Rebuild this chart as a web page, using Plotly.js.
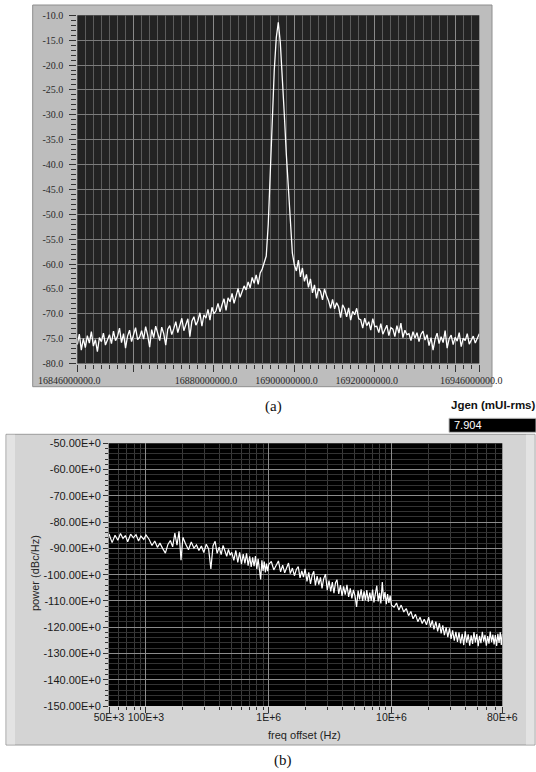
<!DOCTYPE html>
<html><head><meta charset="utf-8">
<script src="https://cdn.plot.ly/plotly-3.0.1.min.js"></script>
<style>html,body{margin:0;padding:0;background:#fff}#chart{width:536px;height:772px}</style>
</head><body><div id="chart"></div>
<script>
// ---------- Panel (a): RF spectrum ----------
const specStartHz = 16846000000;
const specStepHz = 500000;
const specPowerDb = [
 -76.2,-74.1,-77.3,-75.0,-76.8,-74.4,-75.9,-73.6,-76.5,-75.2,-77.6,-74.8,-75.6,-73.9,-76.3,-75.1,
 -74.2,-76.0,-73.5,-75.4,-74.6,-72.9,-75.8,-74.0,-76.9,-74.5,-73.3,-75.6,-74.1,-72.8,-75.2,-74.7,
 -73.4,-75.1,-72.6,-74.3,-76.7,-73.2,-74.8,-72.5,-73.9,-75.4,-72.7,-74.0,-76.3,-73.1,-72.4,-74.2,
 -73.0,-71.6,-73.8,-72.1,-70.9,-73.4,-72.2,-71.0,-74.6,-71.5,-70.6,-72.3,
 -71.4,-69.8,-72.5,-70.2,-70.9,-69.1,-71.3,-68.7,-70.0,-69.4,-67.9,-69.6,
 -68.2,-67.0,-69.3,-66.8,-67.6,-65.9,-67.9,-66.2,-64.9,-66.7,-65.3,-64.4,
 -65.2,-63.6,-64.8,-62.7,-63.9,-62.2,-64.1,-61.8,
 -61.0,-59.8,
 -58.4,-52.0,-41.0,-30.0,-21.0,-14.5,-11.4,-15.5,-22.0,-30.0,-38.0,-45.0,-52.0,-57.8,-60.2,
 -61.4,-59.2,-62.6,-60.8,-63.5,-62.1,-64.7,-63.0,
 -65.8,-64.2,-66.9,-64.9,-65.5,-67.2,-65.0,-66.4,
 -67.4,-68.9,-67.1,-69.0,-67.8,-68.6,-70.8,-68.2,
 -69.0,-70.6,-68.8,-71.3,-69.5,-70.2,-68.9,-71.0,
 -71.2,-72.9,-70.9,-72.4,-71.6,-73.3,-71.0,-72.6,
 -72.5,-73.8,-72.0,-74.1,-73.2,-72.3,-74.4,-72.8,
 -73.1,-74.6,-72.4,-73.9,-71.9,-74.8,-73.3,-74.2,
 -74.0,-75.4,-73.6,-74.9,-73.8,-75.6,-74.1,-73.5,
 -75.3,-74.2,-76.4,-74.8,-77.3,-75.1,-73.9,-76.0,-74.6,-75.8,-73.4,-76.9,-75.0,-74.3,
 -76.2,-74.7,-75.5,-73.8,-76.6,-74.9,-75.4,-74.0,-76.1,-75.2,-74.5,-75.9,-74.8,-74.0
];
const specXTickVals = [16846000000,16860000000,16880000000,16900000000,16920000000,16940000000,16946000000];
const specXTickText = ['16846000000.0','','16880000000.0','16900000000.0','16920000000.0','','16946000000.0'];
const specYTickVals = [-80,-75,-70,-65,-60,-55,-50,-45,-40,-35,-30,-25,-20,-15,-10];
const specYTickText = ['-80.0','-75.0','-70.0','-65.0','-60.0','-55.0','-50.0','-45.0','-40.0','-35.0','-30.0','-25.0','-20.0','-15.0','-10.0'];

// ---------- Panel (b): phase noise ----------
const pnFreqHz = [
 5.0e4,5.3e4,5.6e4,5.9e4,6.2e4,6.5e4,6.8e4,7.1e4,7.5e4,7.9e4,8.3e4,8.7e4,9.1e4,9.6e4,1.0e5,
 1.06e5,1.12e5,1.18e5,1.24e5,1.30e5,1.37e5,1.44e5,1.51e5,1.58e5,1.65e5,1.72e5,1.79e5,1.86e5,1.93e5,2.00e5,
 2.10e5,2.22e5,2.34e5,2.46e5,2.58e5,2.70e5,2.83e5,2.96e5,3.10e5,3.24e5,3.38e5,3.52e5,3.66e5,3.80e5,3.95e5,4.10e5,4.25e5,4.40e5,4.55e5,4.70e5,4.85e5,5.00e5,
 5.2e5,5.4e5,5.6e5,5.8e5,6.0e5,6.2e5,6.4e5,6.6e5,6.8e5,7.0e5,7.2e5,7.4e5,7.6e5,7.8e5,8.0e5,8.2e5,8.4e5,8.6e5,8.8e5,9.0e5,9.2e5,9.4e5,9.6e5,9.8e5,1.0e6,
 1.05e6,1.10e6,1.15e6,1.20e6,1.25e6,1.30e6,1.35e6,1.40e6,1.45e6,1.50e6,
 1.56e6,1.62e6,1.68e6,1.74e6,1.80e6,1.86e6,1.92e6,1.98e6,
 2.05e6,2.12e6,2.19e6,2.26e6,2.33e6,2.40e6,2.48e6,2.56e6,2.64e6,2.72e6,2.80e6,
 2.90e6,3.00e6,3.10e6,3.20e6,3.30e6,3.40e6,3.50e6,3.60e6,
 3.72e6,3.84e6,3.96e6,4.08e6,4.20e6,4.34e6,4.48e6,4.62e6,4.76e6,4.90e6,
 5.05e6,5.20e6,5.35e6,5.50e6,5.66e6,5.82e6,5.98e6,6.14e6,6.30e6,
 6.48e6,6.66e6,6.84e6,7.02e6,7.20e6,7.40e6,7.60e6,7.80e6,8.00e6,8.20e6,
 8.42e6,8.64e6,8.86e6,9.08e6,9.30e6,9.53e6,9.76e6,1.00e7,
 1.05e7,1.10e7,1.15e7,1.20e7,1.26e7,1.32e7,1.38e7,1.44e7,1.50e7,1.57e7,1.64e7,1.71e7,1.78e7,1.85e7,1.93e7,
 2.01e7,2.08e7,2.15e7,2.22e7,2.30e7,2.38e7,2.46e7,2.54e7,2.62e7,2.70e7,2.79e7,2.88e7,2.97e7,3.06e7,
 3.15e7,3.25e7,3.35e7,3.45e7,3.55e7,3.66e7,3.77e7,3.88e7,3.99e7,4.10e7,
 4.22e7,4.34e7,4.46e7,4.58e7,4.70e7,4.83e7,4.96e7,5.09e7,5.22e7,5.36e7,
 5.50e7,5.64e7,5.78e7,5.93e7,6.08e7,6.23e7,6.38e7,6.54e7,
 6.70e7,6.86e7,7.02e7,7.19e7,7.36e7,7.53e7,7.70e7,7.85e7,8.00e7
];
const pnPowerDb = [
 -84.5,-87.8,-85.0,-86.9,-84.3,-86.2,-85.1,-87.5,-84.6,-86.0,-84.8,-87.2,-85.3,-86.6,-84.9,
 -86.5,-88.9,-87.2,-89.6,-88.0,-90.1,-91.8,-88.5,-87.0,-89.4,-84.2,-88.8,-83.5,-94.5,-85.8,
 -88.2,-90.5,-87.6,-89.9,-88.7,-90.8,-89.1,-91.6,-88.4,-90.2,-97.8,-89.0,-87.3,-91.9,-89.5,-92.4,-88.9,-91.1,-93.0,-90.4,-92.6,-91.5,
 -94.6,-90.8,-95.3,-91.5,-96.0,-92.2,-95.7,-91.9,-96.6,-93.0,-97.1,-93.4,-96.8,-92.9,-97.9,-94.0,-98.3,-101.8,-94.5,-98.6,-95.0,-99.2,-95.8,-98.7,-96.1,
 -95.0,-98.2,-96.1,-94.8,-98.9,-96.4,-99.3,-97.0,-95.6,-99.6,
 -97.5,-100.4,-98.0,-96.9,-101.2,-98.6,-100.9,-97.8,
 -102.6,-99.1,-103.5,-100.2,-98.7,-104.1,-100.6,-103.8,-101.0,-105.2,-101.7,
 -99.8,-105.9,-102.3,-106.4,-102.8,-107.0,-103.1,-101.9,
 -107.3,-104.0,-108.1,-104.5,-107.6,-103.9,-108.5,-105.2,-109.0,-105.8,
 -108.2,-112.3,-106.1,-109.4,-105.6,-110.0,-106.4,-109.7,-105.9,
 -110.3,-106.8,-109.9,-105.7,-110.6,-107.1,-104.2,-110.2,-106.9,-111.0,
 -102.8,-109.5,-106.6,-111.2,-107.4,-110.8,-108.0,-111.6,
 -112.4,-110.8,-113.5,-111.6,-114.2,-112.9,-115.6,-114.0,-116.8,-115.1,-117.9,-116.2,-118.6,-117.0,-119.1,
 -116.2,-119.9,-117.4,-120.8,-117.9,-121.6,-118.5,-122.4,-119.3,-123.0,-120.1,-123.8,-120.4,-124.5,
 -121.2,-125.1,-121.8,-125.6,-122.0,-126.2,-122.5,-126.8,-121.6,-125.9,
 -122.7,-127.0,-123.1,-126.4,-121.9,-125.8,-122.6,-127.2,-123.3,-126.1,
 -121.8,-125.5,-122.9,-127.0,-123.4,-126.3,-121.7,-125.7,
 -122.8,-126.6,-123.0,-127.1,-122.5,-126.0,-121.9,-126.8,-122.6
];
const pnXTickVals = [5e4,1e5,1e6,1e7,8e7];
const pnXTickText = ['50E+3','100E+3','1E+6','10E+6','80E+6'];
const pnXMinorVals = [6e4,7e4,8e4,9e4,2e5,3e5,4e5,5e5,6e5,7e5,8e5,9e5,2e6,3e6,4e6,5e6,6e6,7e6,8e6,9e6,2e7,3e7,4e7,5e7,6e7,7e7];
const pnYTickVals = [-150,-140,-130,-120,-110,-100,-90,-80,-70,-60,-50];
const pnYTickText = ['-150.00E+0','-140.00E+0','-130.00E+0','-120.00E+0','-110.00E+0','-100.00E+0','-90.00E+0','-80.00E+0','-70.00E+0','-60.00E+0','-50.00E+0'];
const pnXTitle = 'freq offset (Hz)';
const pnYTitle = 'power (dBc/Hz)';
const jgenLabel = 'Jgen (mUI-rms)';
const jgenValue = '7.904';

// ---------- layout geometry (pixels -> paper) ----------
const W = 536, H = 772;
const px = v => v / W, py = v => 1 - v / H;
const domAx = [px(77.3), px(479.3)], domAy = [py(363.5), py(15.3)];
const domBx = [px(109), px(502.3)], domBy = [py(706), py(443.3)];

const serif = '"Liberation Serif", "Times New Roman", serif';
const sans = '"Liberation Sans", Arial, sans-serif';

const traces = [
  {type:'scatter', mode:'lines', x0:specStartHz, dx:specStepHz, y:specPowerDb,
   xaxis:'x', yaxis:'y', line:{color:'#ffffff', width:1.3}, hoverinfo:'skip'},
  {type:'scatter', mode:'lines', x:pnFreqHz, y:pnPowerDb,
   xaxis:'x2', yaxis:'y2', line:{color:'#ffffff', width:1.2}, hoverinfo:'skip'}
];

const layout = {
  width: W, height: H, margin:{l:0,r:0,t:0,b:0},
  paper_bgcolor:'#ffffff', plot_bgcolor:'rgba(0,0,0,0)', showlegend:false,
  xaxis:{domain:domAx, anchor:'y', range:[16846000000,16946000000], zeroline:false,
    tickmode:'array', tickvals:specXTickVals, ticktext:specXTickText, tickangle:0,
    ticks:'outside', ticklen:7, tickcolor:'#333', ticklabelshift:-8,
    tickfont:{family:serif, size:10, color:'#2a2a2a'},
    showgrid:true, gridcolor:'#8a8a8a', gridwidth:1,
    minor:{tick0:16846000000, dtick:2000000, ticks:'outside', ticklen:4, tickcolor:'#333', showgrid:true, gridcolor:'#5c5c5c', gridwidth:1},
    showline:false},
  yaxis:{domain:domAy, anchor:'x', range:[-80,-10], zeroline:false,
    tickmode:'array', tickvals:specYTickVals, ticktext:specYTickText, tickangle:0,
    ticks:'outside', ticklen:7, tickcolor:'#333', ticklabelstandoff:4,
    tickfont:{family:serif, size:10, color:'#2a2a2a'},
    showgrid:true, gridcolor:'#7c7c7c', gridwidth:1,
    minor:{dtick:1, ticks:'outside', ticklen:5, tickcolor:'#333', showgrid:false},
    showline:false},
  xaxis2:{domain:domBx, anchor:'y2', type:'log', range:[Math.log10(5e4), Math.log10(8e7)], zeroline:false,
    tickmode:'array', tickvals:pnXTickVals, ticktext:pnXTickText, tickangle:0,
    ticks:'outside', ticklen:6, tickcolor:'#333', ticklabelstandoff:-5,
    tickfont:{family:sans, size:10.5, color:'#1a1a1a'},
    showgrid:true, gridcolor:'#8c8c8c', gridwidth:1,
    minor:{tickmode:'array', tickvals:pnXMinorVals, ticks:'outside', ticklen:3, tickcolor:'#333', showgrid:true, gridcolor:'#3a3a3a', gridwidth:1},
    showline:false},
  yaxis2:{domain:domBy, anchor:'x2', range:[-150,-50], zeroline:false,
    tickmode:'array', tickvals:pnYTickVals, ticktext:pnYTickText, tickangle:0,
    ticks:'outside', ticklen:5, tickcolor:'#333',
    tickfont:{family:sans, size:11, color:'#1a1a1a'},
    showgrid:true, gridcolor:'#8c8c8c', gridwidth:1,
    minor:{dtick:2, ticks:'outside', ticklen:3, tickcolor:'#333', showgrid:true, gridcolor:'#333333', gridwidth:1},
    showline:true, linecolor:'#8c8c8c', linewidth:1},
  shapes:[
    {type:'rect', xref:'paper', yref:'paper', layer:'below', x0:px(32.7), x1:px(492), y0:py(386.7), y1:py(5),
     fillcolor:'#bdbdbd', line:{color:'#8e8e8e', width:1}},
    {type:'rect', xref:'paper', yref:'paper', layer:'below', x0:domAx[0], x1:domAx[1], y0:domAy[0], y1:domAy[1],
     fillcolor:'#232323', line:{width:0}},
    {type:'rect', xref:'paper', yref:'paper', layer:'below', x0:px(6), x1:px(535), y0:py(745), y1:py(434.3),
     fillcolor:'#d4d4d4', line:{color:'#9a9a9a', width:1}},
    {type:'rect', xref:'paper', yref:'paper', layer:'below', x0:px(6.5), x1:px(15), y0:py(744.5), y1:py(434.8),
     fillcolor:'#e3e3e3', line:{width:0}},
    {type:'rect', xref:'paper', yref:'paper', layer:'below', x0:px(526), x1:px(534.5), y0:py(744.5), y1:py(434.8),
     fillcolor:'#e3e3e3', line:{width:0}},
    {type:'rect', xref:'paper', yref:'paper', layer:'below', x0:domBx[0], x1:domBx[1], y0:domBy[0], y1:domBy[1],
     fillcolor:'#000000', line:{width:0}},
    {type:'rect', xref:'paper', yref:'paper', layer:'below', x0:px(449), x1:px(536), y0:py(432.3), y1:py(418.3),
     fillcolor:'#000000', line:{color:'#bdbdbd', width:1}}
  ],
  annotations:[
    {xref:'paper', yref:'paper', x:px(273), y:py(406), text:'(a)', showarrow:false, xanchor:'center', yanchor:'middle',
     font:{family:serif, size:15, color:'#111'}},
    {xref:'paper', yref:'paper', x:px(283), y:py(760), text:'(b)', showarrow:false, xanchor:'center', yanchor:'middle',
     font:{family:serif, size:15, color:'#111'}},
    {xref:'paper', yref:'paper', x:px(449), y:py(405), text:'<b>'+jgenLabel+'</b>', showarrow:false, xanchor:'left', yanchor:'middle',
     font:{family:sans, size:11.5, color:'#111'}},
    {xref:'paper', yref:'paper', x:px(452), y:py(425.3), text:jgenValue, showarrow:false, xanchor:'left', yanchor:'middle',
     font:{family:sans, size:11, color:'#ffffff'}},
    {xref:'paper', yref:'paper', x:px(35), y:py(573), text:pnYTitle, textangle:-90, showarrow:false, xanchor:'center', yanchor:'middle',
     font:{family:sans, size:11, color:'#222'}},
    {xref:'paper', yref:'paper', x:px(304), y:py(735), text:pnXTitle, showarrow:false, xanchor:'center', yanchor:'middle',
     font:{family:sans, size:11, color:'#222'}}
  ]
};

Plotly.newPlot('chart', traces, layout, {staticPlot:true, displayModeBar:false});
</script>
</body></html>
